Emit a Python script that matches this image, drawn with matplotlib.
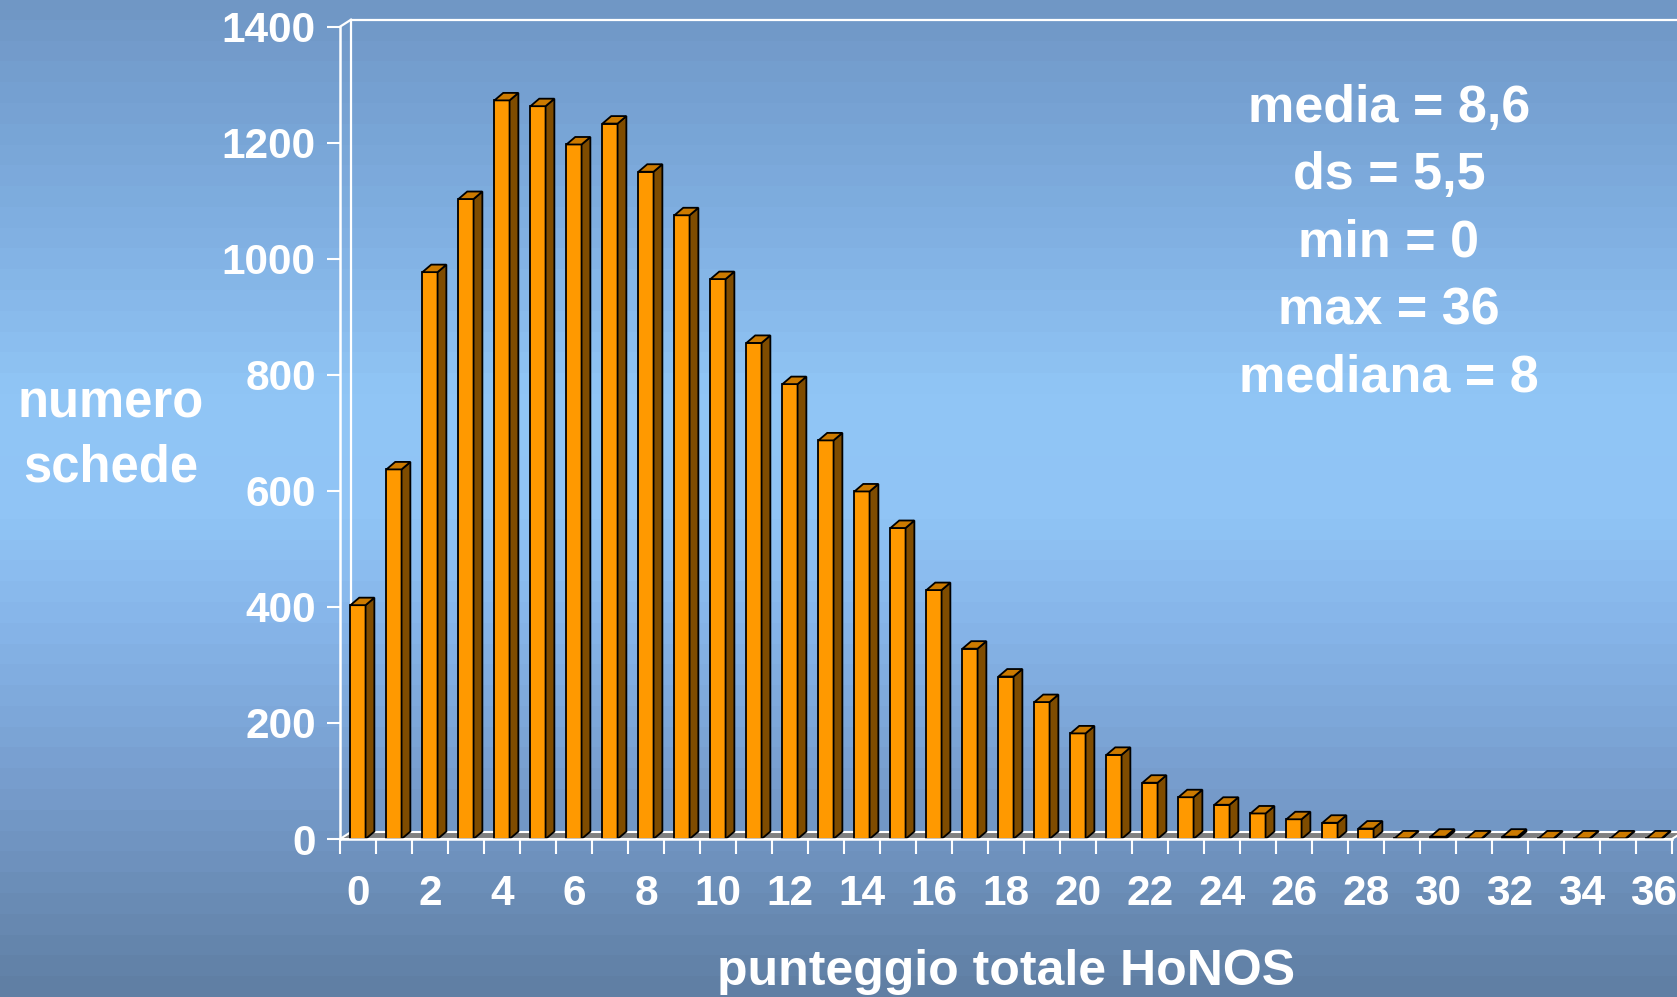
import numpy as np
import matplotlib
matplotlib.use("Agg")
import matplotlib.pyplot as plt
from matplotlib.patches import Polygon
from matplotlib.lines import Line2D

# ---- data -------------------------------------------------------------
scores = list(range(37))
counts = [403, 637, 977, 1103, 1273, 1263, 1197, 1233, 1150, 1075, 965,
          855, 784, 687, 599, 536, 429, 328, 280, 236, 182, 145, 97, 72,
          59, 44, 34, 28, 18, 1, 4, 1, 4, 1, 1, 1, 1]
y_ticks = [0, 200, 400, 600, 800, 1000, 1200, 1400]
x_tick_labels = [str(s) if s % 2 == 0 else "" for s in scores]
stats_lines = ["media = 8,6", "ds = 5,5", "min = 0", "max = 36", "mediana = 8"]
y_label_lines = ["numero", "schede"]
x_label = "punteggio totale HoNOS"

# ---- style ------------------------------------------------------------
FONT = ["Liberation Sans", "DejaVu Sans"]
FRONT = "#FF9900"
SIDE = "#7F4C00"
TOP = "#CC7A00"
FLOOR = "#808080"
WHITE = "white"

W, H, DPI = 1677, 997, 100
fig = plt.figure(figsize=(W / DPI, H / DPI), dpi=DPI)

# background: banded vertical blue gradient
bg = fig.add_axes([0, 0, 1, 1], zorder=0)
stops = np.array([0.0, 0.10, 0.25, 0.40, 0.52, 0.62, 0.76, 0.90, 1.0])
cols = np.array([
    (112, 150, 196), (118, 161, 210), (130, 178, 228), (145, 198, 246),
    (144, 196, 245), (135, 182, 234), (122, 161, 210), (106, 140, 182),
    (95, 126, 163)]) / 255.0
n_bands = 48
t = (np.arange(n_bands) + 0.5) / n_bands
grad = np.stack([np.interp(t, stops, cols[:, k]) for k in range(3)], axis=1)
bg.imshow(grad[:, None, :], aspect="auto", extent=[0, 1, 0, 1],
          interpolation="nearest")
bg.set_axis_off()

# plotting area (front plane of the 3-D box)
x0_px, x1_px = 340, 1672
y0_px, y1_px = 839, 26.7
ax = fig.add_axes([x0_px / W, (H - y0_px) / H, (x1_px - x0_px) / W,
                   (y0_px - y1_px) / H], zorder=1)
ax.patch.set_alpha(0)
xmin, xmax = -0.5, len(scores) - 0.5
ymin, ymax = 0, 1400
ax.set_xlim(xmin, xmax)
ax.set_ylim(ymin, ymax)

px_x = (x1_px - x0_px) / (xmax - xmin)   # pixels per category
px_y = (y0_px - y1_px) / (ymax - ymin)   # pixels per count

# depth offsets (bars and box walls)
bdx, bdy = 8.8 / px_x, 7.5 / px_y
wdx, wdy = 11 / px_x, 7 / px_y

# floor
floor = Polygon([(xmin, 0), (xmax, 0), (xmax + wdx, wdy), (xmin + wdx, wdy)],
                closed=True, facecolor=FLOOR, edgecolor=WHITE, lw=1.5,
                zorder=1, clip_on=False)
ax.add_patch(floor)

# box walls
wall_kw = dict(color=WHITE, lw=1.6, zorder=1.5, clip_on=False)
ax.add_line(Line2D([xmin + wdx, xmin + wdx], [wdy, ymax + wdy], **wall_kw))
ax.add_line(Line2D([xmin, xmin + wdx], [ymax, ymax + wdy], **wall_kw))
ax.add_line(Line2D([xmin + wdx, xmax + 3 * wdx], [ymax + wdy, ymax + wdy],
                   **wall_kw))

# bars: front faces via bar(), side and top faces as polygons
bw = 0.42
ax.bar(scores, counts, width=bw, color=FRONT, edgecolor="black", lw=1.3,
       zorder=3)
for x, v in zip(scores, counts):
    r, l = x + bw / 2, x - bw / 2
    side = Polygon([(r, 0), (r + bdx, bdy), (r + bdx, v + bdy), (r, v)],
                   closed=True, facecolor=SIDE, edgecolor="black", lw=1.3,
                   zorder=3, clip_on=False)
    top = Polygon([(l, v), (r, v), (r + bdx, v + bdy), (l + bdx, v + bdy)],
                  closed=True, facecolor=TOP, edgecolor="black", lw=1.3,
                  zorder=3, clip_on=False)
    ax.add_patch(side)
    ax.add_patch(top)

# axes lines and ticks
for s in ("top", "right"):
    ax.spines[s].set_visible(False)
for s in ("left", "bottom"):
    ax.spines[s].set_color(WHITE)
    ax.spines[s].set_linewidth(1.8)
    ax.spines[s].set_zorder(4)

ax.set_yticks(y_ticks)
ax.set_yticklabels([str(v) for v in y_ticks])
ax.tick_params(axis="y", colors=WHITE, length=9.4, width=1.5, pad=8.0,
               direction="out")
ax.set_xticks(np.arange(xmin, xmax + 0.01, 1.0))
ax.set_xticklabels([])
ax.tick_params(axis="x", which="major", colors=WHITE, length=10.8,
               width=1.5, direction="out")
ax.set_xticks(scores, minor=True)
ax.set_xticklabels(x_tick_labels, minor=True)
ax.tick_params(axis="x", which="minor", length=0, pad=25.5, colors=WHITE)
for lab in ax.get_yticklabels() + ax.get_xticklabels(minor=True):
    lab.set_fontfamily(FONT)
    lab.set_fontweight("bold")
    lab.set_fontsize(30.5)
    lab.set_color(WHITE)


def px_text(x, y, s, size, **kw):
    fig.text(x / W, 1 - y / H, s, fontsize=size, fontweight="bold",
             family=FONT, color=WHITE, ha="center", va="baseline", **kw)


# axis titles
px_text(111, 418, y_label_lines[0], 36.5)
px_text(111, 482, y_label_lines[1], 36.5)
px_text(1006, 985, x_label, 36)

# summary statistics
for i, line in enumerate(stats_lines):
    px_text(1389, 121.7 + i * 67.5, line, 37.5)

fig.savefig("out.png", dpi=DPI)
